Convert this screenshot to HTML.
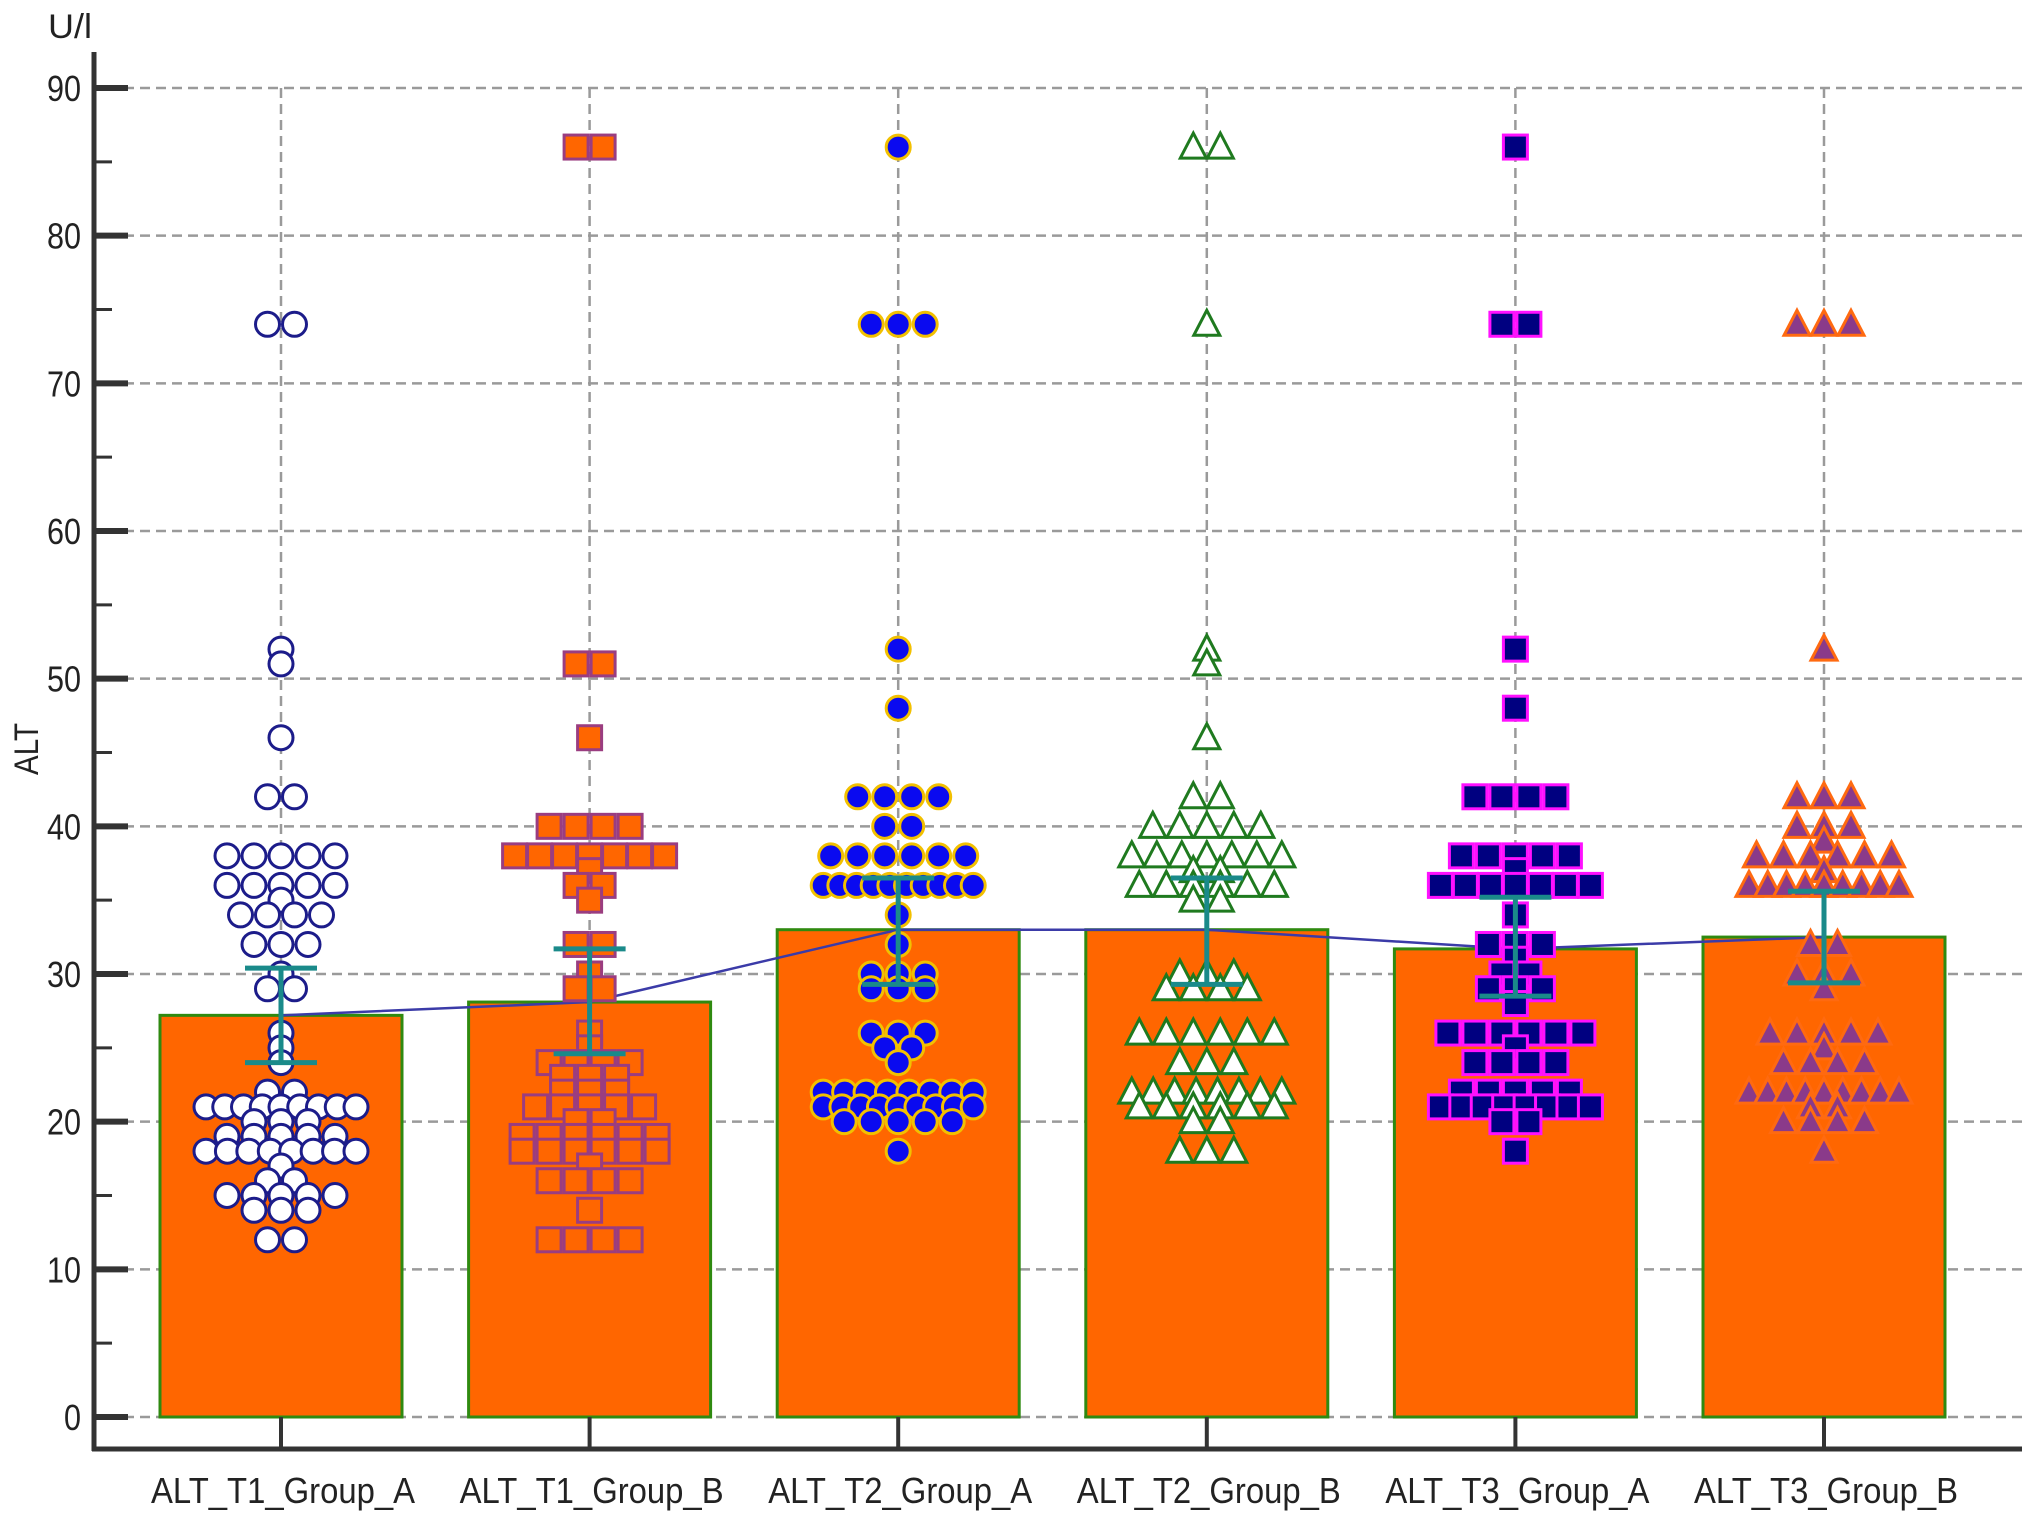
<!DOCTYPE html>
<html><head><meta charset="utf-8"><style>
html,body{margin:0;padding:0;background:#fff}
svg{display:block}
text{font-family:"Liberation Sans",Arial,sans-serif;fill:#222}
</style></head><body>
<svg id="chart" width="2032" height="1522" viewBox="0 0 2032 1522" xmlns="http://www.w3.org/2000/svg">
<text x="48" y="38" font-size="34" textLength="44" lengthAdjust="spacingAndGlyphs">U/l</text>
<text transform="translate(38,749) rotate(-90)" text-anchor="middle" font-size="34" textLength="52" lengthAdjust="spacingAndGlyphs">ALT</text>
</svg>
<script>
const categories = ["ALT_T1_Group_A","ALT_T1_Group_B","ALT_T2_Group_A","ALT_T2_Group_B","ALT_T3_Group_A","ALT_T3_Group_B"];
const barMeans = [27.2, 28.1, 33.0, 33.0, 31.7, 32.5];
const errHigh = [30.4, 31.7, 36.5, 36.5, 35.2, 35.6];
const errLow = [24.0, 24.6, 29.3, 29.3, 28.5, 29.4];
const yTicks = [0,10,20,30,40,50,60,70,80,90];
const ptsA1 = [74,74,52,51,46,42,42,38,38,38,38,38,36,36,36,36,36,35,34,34,34,34,32,32,32,30,29,29,26,25,24,22,22,21,21,21,21,21,21,21,21,21,20,20,20,19,19,19,19,19,18,18,18,18,18,18,18,18,17,16,16,15,15,15,15,15,14,14,14,12,12];
const ptsB1 = [86,86,51,51,46,40,40,40,40,38,38,38,38,38,38,38,37,36,36,35,32,32,30,29,29,26,25,24,24,24,24,23,23,23,22,22,22,21,21,21,21,21,20,20,19,19,19,19,19,19,18,18,18,18,18,18,17,16,16,16,16,14,12,12,12,12];
const ptsA2 = [86,74,74,74,52,48,42,42,42,42,40,40,38,38,38,38,38,38,36,36,36,36,36,36,36,36,36,36,34,32,30,30,30,29,29,29,26,26,26,25,25,24,22,22,22,22,22,22,22,22,21,21,21,21,21,21,21,21,21,20,20,20,20,20,18];
const ptsB2 = [86,86,74,52,51,46,42,42,40,40,40,40,40,38,38,38,38,38,38,38,37,37,36,36,36,36,36,36,35,35,30,30,30,29,29,29,29,26,26,26,26,26,26,24,24,24,22,22,22,22,22,22,22,22,21,21,21,21,21,21,20,20,18,18,18];
const ptsA3 = [86,74,74,52,48,42,42,42,42,38,38,38,38,38,37,36,36,36,36,36,36,36,34,32,32,32,31,30,30,29,29,29,28,26,26,26,26,26,26,25,24,24,24,24,22,22,22,22,22,21,21,21,21,21,21,21,21,20,20,18];
const ptsB3 = [74,74,74,52,42,42,42,40,40,40,39,38,38,38,38,38,38,37,36,36,36,36,36,36,36,36,36,32,32,30,30,30,29,26,26,26,26,26,25,24,24,24,24,22,22,22,22,22,22,22,22,22,21,21,20,20,20,20,18];
const allPoints = [ptsA1, ptsB1, ptsA2, ptsB2, ptsA3, ptsB3];

const NS = "http://www.w3.org/2000/svg";
const svg = document.getElementById('chart');
const X0 = 94, X1 = 2022, Y0 = 1417, YTOP = 88, XAXIS = 1449;
const yScale = v => Y0 - (Y0 - YTOP) * v / 90;
const xScale = i => 281 + i * 308.6;
function mk(tag, attrs, parent) {
  const e = document.createElementNS(NS, tag);
  for (const k in attrs) e.setAttribute(k, attrs[k]);
  (parent || svg).appendChild(e);
  return e;
}
const grid = mk('g', {stroke:'#9a9a9a','stroke-width':2.5,'stroke-dasharray':'10 6',fill:'none'});


yTicks.forEach(t => {
  const l = mk('line', {x1:X0+30, x2:X1, y1:yScale(t), y2:yScale(t)}, grid);
  
  
});
categories.forEach((c, i) => {
  const l = mk('line', {x1:xScale(i), x2:xScale(i), y1:yScale(90), y2:Y0}, grid);
  
  
});
barMeans.forEach((m, i) => {
  const r = mk('rect', {x:xScale(i)-121, y:yScale(m), width:242, height:Y0-yScale(m), fill:'#ff6600', stroke:'#2f8a10', 'stroke-width':3});
  
  
});
const ml = mk('polyline', {points: barMeans.map((m,i)=>xScale(i)+','+yScale(m)).join(' '), fill:'none', stroke:'#3b3ba8', 'stroke-width':2.5});


const styles = [
  {shape:'circle', fill:'#ffffff', stroke:'#1c1c8a'},
  {shape:'square', fill:'#ff6600', stroke:'#9a3d80'},
  {shape:'circle', fill:'#0a0af0', stroke:'#f2c000'},
  {shape:'triangle', fill:'#ffffff', stroke:'#1f7a1f'},
  {shape:'square', fill:'#000080', stroke:'#ff10ff'},
  {shape:'triangle', fill:'#8a3a8a', stroke:'#ff6a10'}
];
const STEP = 27, MAXSPAN = 150;
allPoints.forEach((pts, gi) => {
  const g = mk('g', {});
  
  
  const counts = {};
  pts.forEach(v => counts[v] = (counts[v] || 0) + 1);
  const idx = {};
  const st = styles[gi];
  pts.forEach(v => {
    const n = counts[v]; const k = idx[v] = (idx[v] === undefined ? 0 : idx[v] + 1);
    const step = n > 1 ? Math.min(STEP, MAXSPAN / (n - 1)) : 0;
    const cx = xScale(gi) + (k - (n - 1) / 2) * step;
    const cy = yScale(v);
    let e;
    if (st.shape === 'circle') e = mk('circle', {cx:cx, cy:cy, r:12, fill:st.fill, stroke:st.stroke, 'stroke-width':3}, g);
    else if (st.shape === 'square') e = mk('rect', {x:cx-12, y:cy-12, width:24, height:24, fill:st.fill, stroke:st.stroke, 'stroke-width':3}, g);
    else e = mk('polygon', {points:`${cx},${cy-14} ${cx+13},${cy+11} ${cx-13},${cy+11}`, fill:st.fill, stroke:st.stroke, 'stroke-width':3}, g);
    
    
  });
});
categories.forEach((c, i) => {
  const g = mk('g', {stroke:'#1a8a8a','stroke-width':5});
  
  
  const x = xScale(i);
  mk('line', {x1:x, x2:x, y1:yScale(errHigh[i]), y2:yScale(errLow[i])}, g);
  mk('line', {x1:x-36, x2:x+36, y1:yScale(errHigh[i]), y2:yScale(errHigh[i])}, g);
  mk('line', {x1:x-36, x2:x+36, y1:yScale(errLow[i]), y2:yScale(errLow[i])}, g);
});
const ax = mk('g', {stroke:'#333', fill:'none'});


mk('line', {x1:X0, x2:X0, y1:52, y2:XAXIS+2, 'stroke-width':5}, ax);
mk('line', {x1:X0-2, x2:X1, y1:XAXIS, y2:XAXIS, 'stroke-width':5}, ax);
yTicks.forEach(t => {
  mk('line', {x1:X0, x2:X0+34, y1:yScale(t), y2:yScale(t), 'stroke-width':6}, ax);
  if (t < 90) mk('line', {x1:X0, x2:X0+18, y1:yScale(t+5), y2:yScale(t+5), 'stroke-width':3}, ax);
  const lb = mk('text', {x:X0-13, y:yScale(t)+13, 'text-anchor':'end', 'font-size':36, stroke:'none', textLength: t === 0 ? 17 : 34, lengthAdjust:'spacingAndGlyphs'});
  lb.textContent = t;
  
  
});
categories.forEach((c, i) => {
  mk('line', {x1:xScale(i), x2:xScale(i), y1:Y0, y2:XAXIS, 'stroke-width':4}, ax);
  const lb = mk('text', {x:xScale(i)+2, y:1503, 'text-anchor':'middle', 'font-size':36, stroke:'none', textLength:264, lengthAdjust:'spacingAndGlyphs'});
  lb.textContent = c;
  
  
});
</script>
</body></html>
